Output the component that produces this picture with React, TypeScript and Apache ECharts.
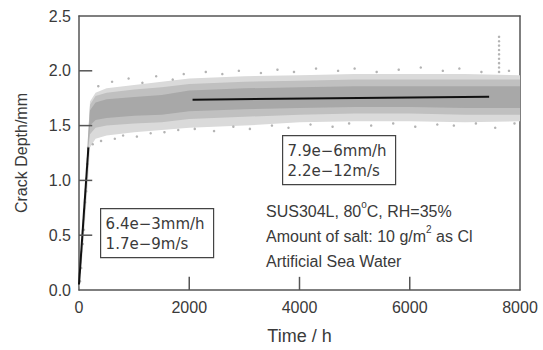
import React, { useEffect, useRef } from "react";
import * as echarts from "echarts";

// Envelope of the scattered measurement cloud (Time h -> Crack depth mm)
const outerTimes = [0, 60, 120, 170, 200, 300, 500, 1000, 1500, 2000, 3000, 4000, 5000, 6000, 7000, 8000];
const outerLow = [0.0, 0.3, 0.7, 1.05, 1.3, 1.38, 1.41, 1.44, 1.46, 1.48, 1.5, 1.53, 1.54, 1.54, 1.53, 1.54];
const outerHigh = [0.15, 0.5, 0.95, 1.45, 1.72, 1.8, 1.84, 1.87, 1.9, 1.93, 1.95, 1.96, 1.97, 1.97, 1.97, 1.96];

const midTimes = [150, 200, 300, 500, 1000, 1500, 2000, 3000, 4000, 5000, 6000, 7000, 8000];
const midLow = [1.2, 1.42, 1.48, 1.5, 1.52, 1.53, 1.56, 1.58, 1.6, 1.61, 1.61, 1.6, 1.6];
const midHigh = [1.3, 1.69, 1.77, 1.8, 1.83, 1.85, 1.88, 1.9, 1.91, 1.92, 1.92, 1.92, 1.92];

const innerTimes = [170, 200, 300, 500, 1000, 1500, 2000, 3000, 4000, 5000, 6000, 7000, 8000];
const innerLow = [1.3, 1.5, 1.55, 1.57, 1.59, 1.6, 1.63, 1.65, 1.66, 1.67, 1.67, 1.66, 1.66];
const innerHigh = [1.4, 1.64, 1.71, 1.74, 1.76, 1.78, 1.82, 1.84, 1.85, 1.86, 1.86, 1.86, 1.86];

// Scattered individual points outside the dense band
const outlierPoints: number[][] = [
  [350, 1.86], [600, 1.9], [900, 1.93], [1150, 1.89], [1400, 1.95], [1700, 1.92], [1900, 1.97],
  [2300, 1.99], [2600, 1.97], [2900, 2.0], [3300, 1.98], [3600, 2.01], [3900, 1.99], [4300, 2.02],
  [4700, 2.0], [5000, 2.02], [5400, 1.99], [5800, 2.01], [6200, 2.03], [6600, 2.0], [6900, 2.02],
  [7300, 1.99], [7800, 2.0],
  [250, 1.33], [400, 1.36], [650, 1.38], [800, 1.41], [1050, 1.4], [1300, 1.43], [1550, 1.44],
  [1800, 1.46], [2100, 1.47], [2450, 1.45], [2800, 1.49], [3100, 1.47], [3500, 1.5], [3800, 1.48],
  [4200, 1.51], [4600, 1.49], [4900, 1.52], [5300, 1.5], [5700, 1.52], [6100, 1.49], [6500, 1.51],
  [6800, 1.5], [7200, 1.52], [7550, 1.48], [7900, 1.52],
  [7620, 1.99], [7620, 2.03], [7620, 2.07], [7620, 2.11], [7620, 2.15], [7620, 2.19], [7620, 2.23],
  [7620, 2.27], [7620, 2.31],
  [20, 0.08], [40, 0.2], [70, 0.42], [90, 0.55], [110, 0.8], [130, 0.9], [150, 1.15], [165, 1.3],
];

// Fitted lines
const fitInitial: number[][] = [[0, 0.05], [170, 1.3]];
const fitSteady: number[][] = [[2060, 1.736], [7440, 1.764]];

const xTicks = [0, 2000, 4000, 6000, 8000];
const yTicks = [0, 0.5, 1.0, 1.5, 2.0, 2.5];

const FONT = "'Liberation Sans', Arial, sans-serif";
const TXT = "#3a3a3a";
const AX = "#555";
// inward tick length (about 13 px) in axis units
const X_TICK_LEN = 0.12; // depth units, for ticks standing on the time axis
const Y_TICK_LEN = 240; // hours, for ticks standing on the depth axis

function bandSeries(times: number[], low: number[], high: number[], color: string) {
  return {
    type: "custom",
    data: [[times[0], low[0]]],
    silent: true,
    z: 1,
    clip: true,
    renderItem: (_params: any, api: any) => {
      const pts: number[][] = [];
      for (let i = 0; i < times.length; i++) pts.push(api.coord([times[i], high[i]]));
      for (let i = times.length - 1; i >= 0; i--) pts.push(api.coord([times[i], low[i]]));
      return { type: "polygon", shape: { points: pts }, style: { fill: color } };
    },
  };
}

function tickLineSeries(points: number[][]) {
  return {
    type: "line",
    data: points,
    symbol: "none",
    clip: false,
    silent: true,
    z: 10,
    lineStyle: { color: AX, width: 1.5 },
  };
}

export default function App() {
  const ref = useRef<HTMLDivElement>(null);
  useEffect(() => {
    if (!ref.current) return;
    const chart = echarts.init(ref.current, null, { renderer: "svg" });
    const boxText = {
      fontFamily: "'DejaVu Sans', sans-serif",
      fontSize: 15,
      lineHeight: 20,
      fill: TXT,
    };
    const lineStyle = { show: true, onZero: false, lineStyle: { color: AX, width: 1.5 } };
    const tickSeries: any[] = [];
    xTicks.slice(1, -1).forEach((v) =>
      tickSeries.push(tickLineSeries([[v, yTicks[0]], [v, yTicks[0] + X_TICK_LEN]]))
    );
    yTicks.slice(1, -1).forEach((v) =>
      tickSeries.push(tickLineSeries([[xTicks[0], v], [xTicks[0] + Y_TICK_LEN, v]]))
    );
    chart.setOption({
      animation: false,
      backgroundColor: "#ffffff",
      grid: { left: 79, right: 23, top: 16, bottom: 59 },
      xAxis: [
        {
          type: "value",
          position: "bottom",
          min: xTicks[0],
          max: xTicks[xTicks.length - 1],
          interval: 2000,
          name: "Time / h",
          nameLocation: "middle",
          nameGap: 37,
          nameTextStyle: { fontFamily: FONT, fontSize: 18, color: TXT },
          axisLine: lineStyle,
          axisTick: { show: false },
          axisLabel: { fontFamily: FONT, fontSize: 16, color: TXT, margin: 9, formatter: (v: number) => String(v) },
          splitLine: { show: false },
        },
        {
          type: "value",
          position: "top",
          min: xTicks[0],
          max: xTicks[xTicks.length - 1],
          axisLine: lineStyle,
          axisTick: { show: false },
          axisLabel: { show: false },
          splitLine: { show: false },
        },
      ],
      yAxis: [
        {
          type: "value",
          position: "left",
          min: yTicks[0],
          max: yTicks[yTicks.length - 1],
          interval: 0.5,
          name: "Crack Depth/mm",
          nameLocation: "middle",
          nameGap: 50,
          nameTextStyle: { fontFamily: FONT, fontSize: 16, color: TXT },
          axisLine: lineStyle,
          axisTick: { show: false },
          axisLabel: {
            fontFamily: FONT,
            fontSize: 16,
            color: TXT,
            margin: 8,
            formatter: (v: number) => v.toFixed(1),
          },
          splitLine: { show: false },
        },
        {
          type: "value",
          position: "right",
          min: yTicks[0],
          max: yTicks[yTicks.length - 1],
          axisLine: lineStyle,
          axisTick: { show: false },
          axisLabel: { show: false },
          splitLine: { show: false },
        },
      ],
      series: [
        bandSeries(outerTimes, outerLow, outerHigh, "#dadada"),
        bandSeries(midTimes, midLow, midHigh, "#c0c0c0"),
        bandSeries(innerTimes, innerLow, innerHigh, "#a8a8a8"),
        {
          type: "scatter",
          data: outlierPoints,
          symbolSize: 2.5,
          itemStyle: { color: "#a0a0a0" },
          z: 2,
          silent: true,
        },
        {
          type: "line",
          data: fitInitial,
          symbol: "none",
          lineStyle: { color: "#111", width: 2 },
          z: 3,
          silent: true,
        },
        {
          type: "line",
          data: fitSteady,
          symbol: "none",
          lineStyle: { color: "#111", width: 2 },
          z: 3,
          silent: true,
        },
        ...tickSeries,
      ],
      graphic: [
        {
          type: "group",
          left: 100,
          top: 208,
          children: [
            { type: "rect", shape: { x: 0, y: 0, width: 113, height: 49 }, style: { fill: "#fff", stroke: "#444", lineWidth: 1.2 } },
            { type: "text", x: 5, y: 5, style: { ...boxText, text: "6.4e−3mm/h\n1.7e−9m/s" } },
          ],
        },
        {
          type: "group",
          left: 282,
          top: 135,
          children: [
            { type: "rect", shape: { x: 0, y: 0, width: 113, height: 49 }, style: { fill: "#fff", stroke: "#444", lineWidth: 1.2 } },
            { type: "text", x: 5, y: 5, style: { ...boxText, text: "7.9e−6mm/h\n2.2e−12m/s" } },
          ],
        },
        {
          type: "text",
          left: 266,
          top: 199,
          style: {
            text: "SUS304L, 80{sup|o}C, RH=35%\nAmount of salt: 10 g/m{sup|2} as Cl\nArtificial Sea Water",
            fontFamily: FONT,
            fontSize: 16,
            lineHeight: 25,
            fill: TXT,
            rich: {
              sup: { fontFamily: FONT, fontSize: 10, verticalAlign: "top", lineHeight: 25, fill: TXT, padding: [0, 0, 8, 0] },
            },
          },
        },
      ],
    });
    return () => chart.dispose();
  }, []);
  return (
    <div
      ref={ref}
      style={{ position: "absolute", left: 0, top: 0, width: 543, height: 350, background: "#fff" }}
    />
  );
}
